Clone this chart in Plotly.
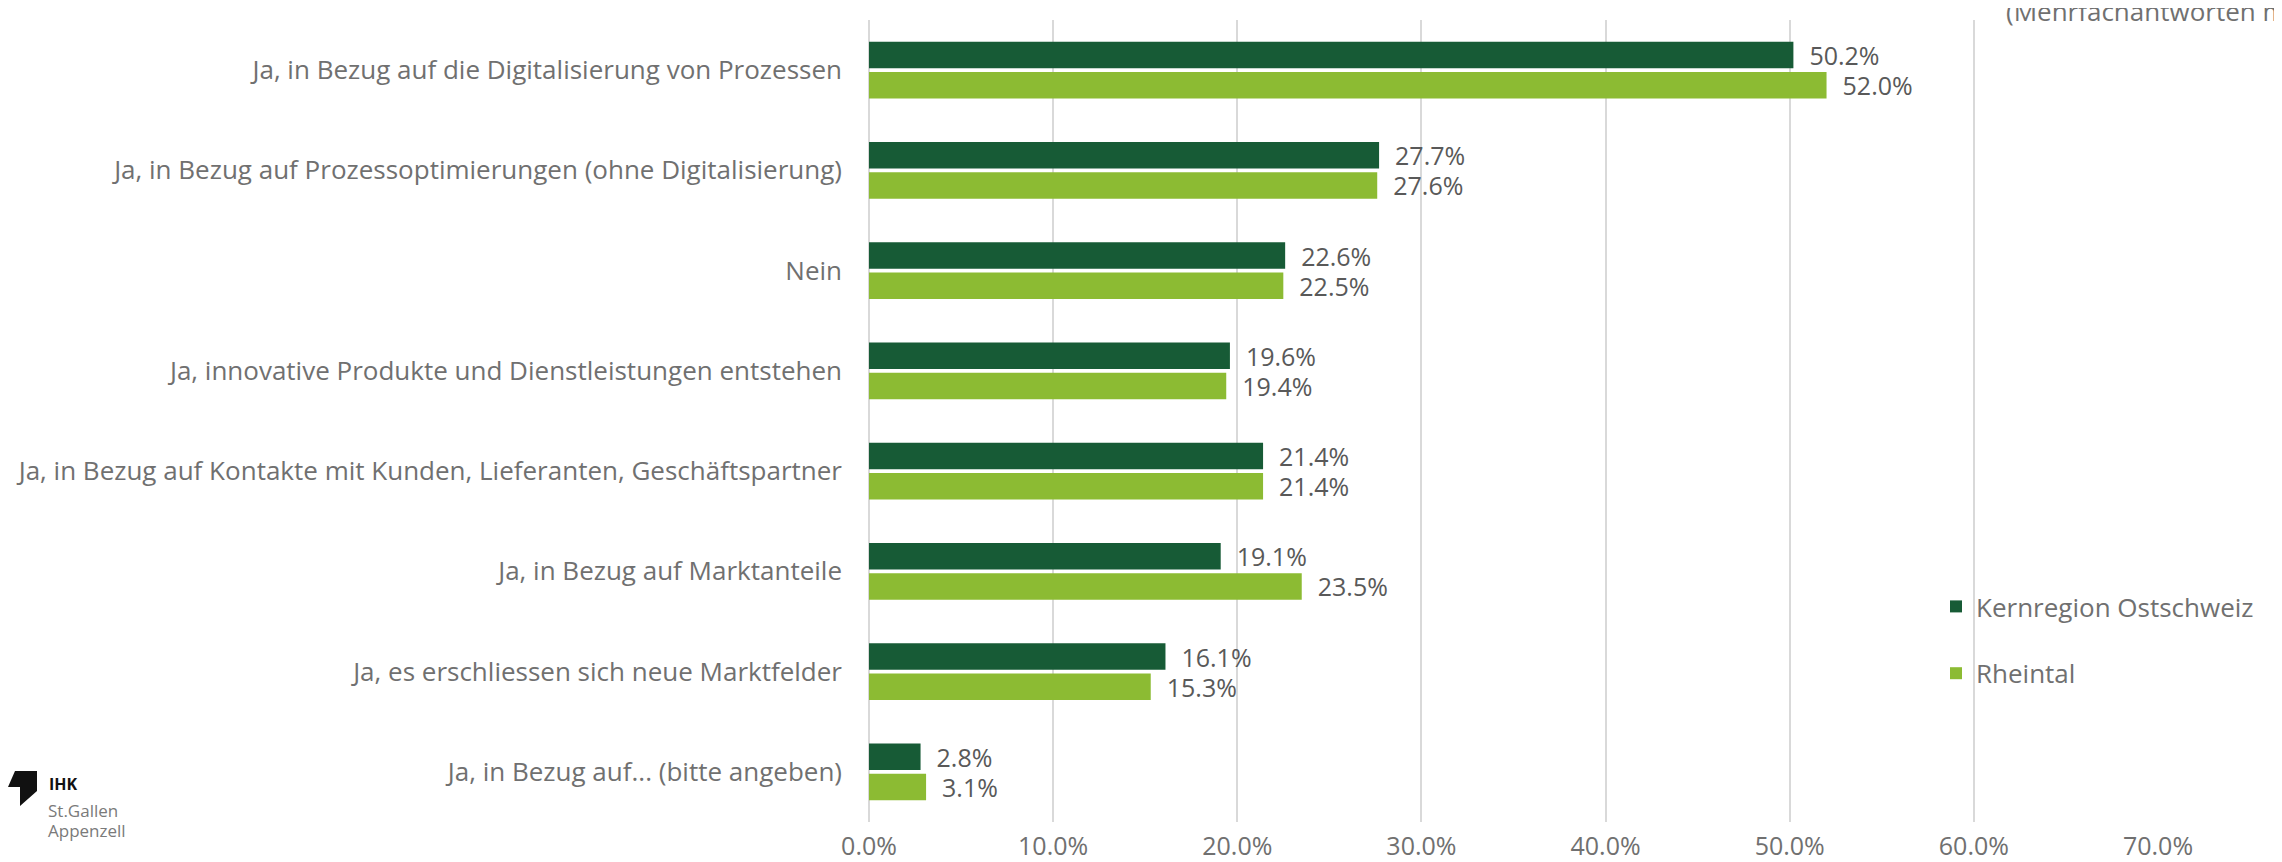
import plotly.graph_objects as go

categories = [
    "Ja, in Bezug auf die Digitalisierung von Prozessen",
    "Ja, in Bezug auf Prozessoptimierungen (ohne Digitalisierung)",
    "Nein",
    "Ja, innovative Produkte und Dienstleistungen entstehen",
    "Ja, in Bezug auf Kontakte mit Kunden, Lieferanten, Geschäftspartner",
    "Ja, in Bezug auf Marktanteile",
    "Ja, es erschliessen sich neue Marktfelder",
    "Ja, in Bezug auf... (bitte angeben)",
]
kernregion = [50.2, 27.7, 22.6, 19.6, 21.4, 19.1, 16.1, 2.8]
rheintal = [52.0, 27.6, 22.5, 19.4, 21.4, 23.5, 15.3, 3.1]
series_names = ["Kernregion Ostschweiz", "Rheintal"]
tick_vals = [0, 10, 20, 30, 40, 50, 60, 70]
tick_text = ["0.0%", "10.0%", "20.0%", "30.0%", "40.0%", "50.0%", "60.0%", "70.0%"]

W, H = 2282, 862
L, R, T, B = 861, 132, 12, 48
PW, PH = W - L - R, H - T - B

def px_x(px):
    return (px - L) / PW

def px_y(py):
    return (H - B - py) / PH

FONT = "Open Sans"
GRAY = "#707070"
LABEL = "#595959"

fig = go.Figure()
for name, vals, col, grp in [
    (series_names[0], kernregion, "#175B36", "a"),
    (series_names[1], rheintal, "#8CBB33", "b"),
]:
    fig.add_trace(go.Bar(
        y=categories, x=vals, name=name, orientation="h",
        marker=dict(color=col, line=dict(width=0)),
        text=[f"\u00a0\u00a0{v:.1f}%" for v in vals],
        textposition="outside", cliponaxis=False, constraintext="none",
        textfont=dict(family=FONT, size=25, color=LABEL),
        legendgroup=grp,
    ))

fig.update_layout(
    width=W, height=H,
    margin=dict(l=L, r=R, t=T, b=B, autoexpand=False),
    paper_bgcolor="white", plot_bgcolor="white",
    barmode="group", bargap=0.4, bargroupgap=0.12,
    font=dict(family=FONT, size=26, color=GRAY),
    xaxis=dict(range=[0, 70], tickvals=tick_vals, ticktext=tick_text,
               showgrid=True, gridcolor="#D9D9D9", gridwidth=2,
               zeroline=True, zerolinecolor="#D9D9D9", zerolinewidth=2,
               showline=False, ticks="", ticklabelstandoff=7,
               tickfont=dict(family=FONT, size=25, color=GRAY)),
    yaxis=dict(autorange="reversed", showgrid=False, showline=False,
               ticks="", ticklabelstandoff=26,
               tickfont=dict(family=FONT, size=26, color=GRAY)),
    legend=dict(x=px_x(1928), y=px_y(575), xanchor="left", yanchor="top",
                traceorder="grouped", tracegroupgap=30,
                font=dict(family=FONT, size=26, color=GRAY),
                bgcolor="rgba(0,0,0,0)", itemwidth=30),
    showlegend=True,
)

fig.add_annotation(text="(Mehrfachantworten möglich)", xref="paper", yref="paper",
                   x=px_x(1996), y=px_y(23), xanchor="left", yanchor="bottom",
                   showarrow=False, font=dict(family=FONT, size=26, color=GRAY))

# logo
logo_pts = [(7, 763), (29, 763), (29, 783), (12, 798), (12, 779), (0, 779)]
path = "M " + " L ".join(f"{px_x(a)},{px_y(b)}" for a, b in logo_pts) + " Z"
fig.add_shape(type="path", path=path, xref="paper", yref="paper",
              fillcolor="#111111", line=dict(width=0))
fig.add_annotation(text="<b>IHK</b>", xref="paper", yref="paper", x=px_x(39), y=px_y(776),
                   xanchor="left", yanchor="middle", showarrow=False,
                   font=dict(family=FONT, size=16, color="#111111"))
fig.add_annotation(text="St.Gallen", xref="paper", yref="paper", x=px_x(38), y=px_y(802),
                   xanchor="left", yanchor="middle", showarrow=False,
                   font=dict(family=FONT, size=17, color="#7A7A7A"))
fig.add_annotation(text="Appenzell", xref="paper", yref="paper", x=px_x(38), y=px_y(822),
                   xanchor="left", yanchor="middle", showarrow=False,
                   font=dict(family=FONT, size=17, color="#7A7A7A"))

fig.write_html("out.html")
